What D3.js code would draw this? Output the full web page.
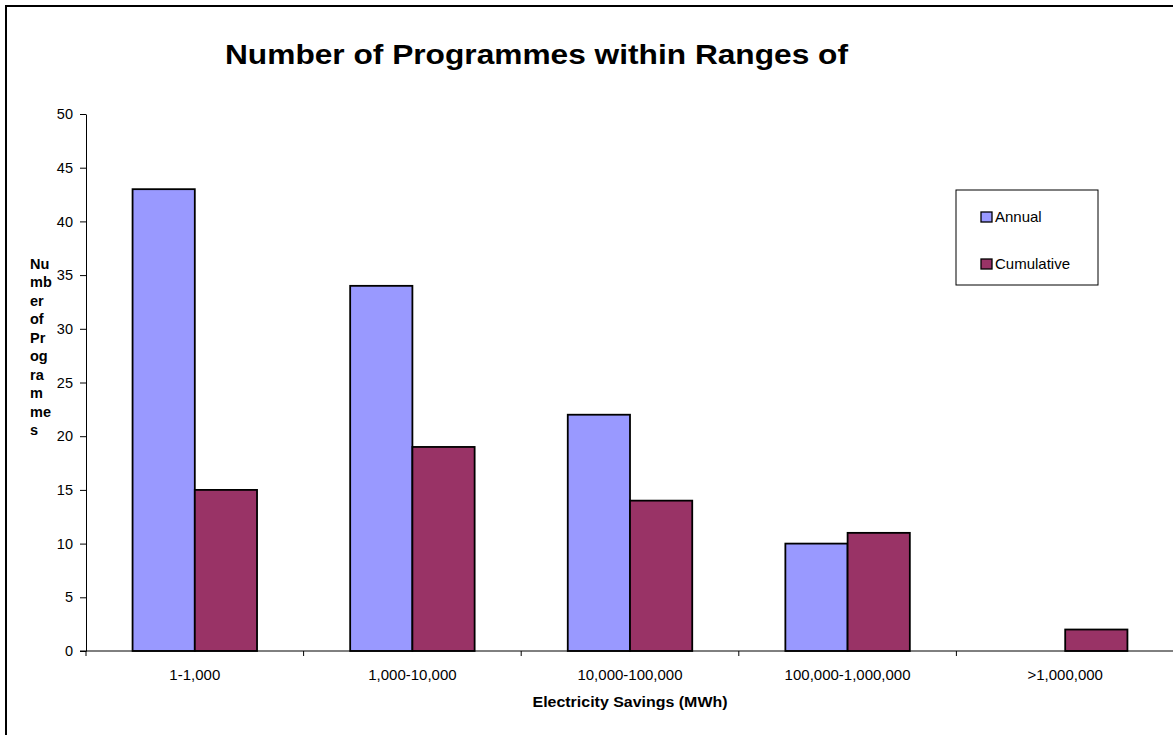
<!DOCTYPE html>
<html>
<head>
<meta charset="utf-8">
<script src="https://cdn.jsdelivr.net/npm/d3@7"></script>
<style>
  html, body { margin: 0; padding: 0; background: #fff; }
  svg { display: block; font-family: "Liberation Sans", Arial, sans-serif; }
</style>
</head>
<body>
<svg id="chart" width="1173" height="735"></svg>
<script>
// Electricity savings ranges (MWh) and programme counts
const categories = ["1-1,000", "1,000-10,000", "10,000-100,000", "100,000-1,000,000", ">1,000,000"];
const seriesNames = ["Annual", "Cumulative"];
const annual = [43, 34, 22, 10, 0];
const cumulative = [15, 19, 14, 11, 2];
const yTicks = [0, 5, 10, 15, 20, 25, 30, 35, 40, 45, 50];
const colors = ["#9999FF", "#993366"];

const svg = d3.select("#chart");

// outer chart frame
svg.append("rect")
  .attr("x", 6).attr("y", 6)
  .attr("width", 1200).attr("height", 760)
  .attr("fill", "#fff").attr("stroke", "#000").attr("stroke-width", 2);

const plot = { left: 86, right: 1174, top: 114, bottom: 651 };

const x = d3.scaleBand()
  .domain(categories)
  .range([plot.left, plot.right])
  .paddingInner(0.428)
  .paddingOuter(0.214);

const xSeries = d3.scaleBand()
  .domain(seriesNames)
  .range([0, x.bandwidth()]);

const y = d3.scaleLinear()
  .domain([0, 50])
  .range([plot.bottom, plot.top]);

// bars
const rows = categories.map((c, i) => ({ cat: c, values: [annual[i], cumulative[i]] }));
const groups = svg.append("g").selectAll("g")
  .data(rows).join("g")
  .attr("transform", d => `translate(${x(d.cat)},0)`);

groups.selectAll("rect")
  .data(d => d.values.map((v, k) => ({ name: seriesNames[k], v, k })).filter(e => e.v > 0))
  .join("rect")
  .attr("x", d => xSeries(d.name))
  .attr("y", d => y(d.v))
  .attr("width", xSeries.bandwidth())
  .attr("height", d => y(0) - y(d.v))
  .attr("fill", d => colors[d.k])
  .attr("stroke", "#000")
  .attr("stroke-width", 1.8);

// y axis
const yAxis = svg.append("g")
  .attr("transform", `translate(${plot.left},0)`)
  .call(d3.axisLeft(y).tickValues(yTicks).tickSize(6).tickSizeOuter(0).tickPadding(7));
yAxis.select(".domain").attr("stroke", "#000");
yAxis.selectAll(".tick line").attr("stroke", "#000");
yAxis.selectAll(".tick text")
  .attr("font-size", "14.5px").attr("fill", "#000")
  .attr("font-family", "Liberation Sans, Arial, sans-serif");

// x axis: ticks sit on category boundaries
const step = x.step();
const boundaries = d3.range(categories.length + 1).map(i => plot.left + i * step);
const xAxisG = svg.append("g");
xAxisG.append("line")
  .attr("x1", plot.left - 6).attr("x2", plot.right)
  .attr("y1", plot.bottom).attr("y2", plot.bottom)
  .attr("stroke", "#000");
xAxisG.selectAll("line.tk")
  .data(boundaries).join("line")
  .attr("class", "tk")
  .attr("x1", d => d).attr("x2", d => d)
  .attr("y1", plot.bottom).attr("y2", plot.bottom + 5)
  .attr("stroke", "#000");
xAxisG.selectAll("text")
  .data(categories).join("text")
  .attr("x", d => x(d) + x.bandwidth() / 2)
  .attr("y", 680)
  .attr("text-anchor", "middle")
  .attr("font-size", "15px")
  .text(d => d);

// title
svg.append("text")
  .attr("x", 536.5).attr("y", 64)
  .attr("text-anchor", "middle")
  .attr("font-size", "28.5px").attr("font-weight", "bold")
  .attr("textLength", 623).attr("lengthAdjust", "spacingAndGlyphs")
  .text("Number of Programmes within Ranges of");

// x axis title
svg.append("text")
  .attr("x", (plot.left + plot.right) / 2).attr("y", 707)
  .attr("text-anchor", "middle")
  .attr("font-size", "14.5px").attr("font-weight", "bold")
  .attr("textLength", 195).attr("lengthAdjust", "spacingAndGlyphs")
  .text("Electricity Savings (MWh)");

// y axis title, wrapped in narrow lines
const yTitleLines = ["Nu", "mb", "er", "of", "Pr", "og", "ra", "m", "me", "s"];
svg.append("text")
  .attr("font-size", "14.5px").attr("font-weight", "bold")
  .selectAll("tspan")
  .data(yTitleLines).join("tspan")
  .attr("x", 30)
  .attr("y", (d, i) => 268.5 + i * 18.5)
  .text(d => d);

// legend
const legend = svg.append("g");
legend.append("rect")
  .attr("x", 956).attr("y", 190)
  .attr("width", 142).attr("height", 95)
  .attr("fill", "#fff").attr("stroke", "#000").attr("stroke-width", 1);
const legendRows = legend.selectAll("g.item")
  .data(seriesNames).join("g")
  .attr("class", "item")
  .attr("transform", (d, i) => `translate(981,${212 + i * 47})`);
legendRows.append("rect")
  .attr("width", 11).attr("height", 10)
  .attr("fill", (d, i) => colors[i])
  .attr("stroke", "#000").attr("stroke-width", 1.3);
legendRows.append("text")
  .attr("x", 14).attr("y", 10)
  .attr("font-size", "15px")
  .text(d => d);
</script>
</body>
</html>
